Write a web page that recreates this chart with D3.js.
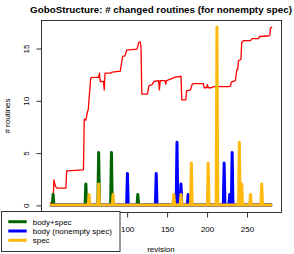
<!DOCTYPE html>
<html>
<head>
<meta charset="utf-8">
<script src="https://cdn.jsdelivr.net/npm/d3@7"></script>
<style>
  body { margin: 0; background: #fff; }
  text { font-family: "Liberation Sans", Arial, sans-serif; fill: #000; }
</style>
</head>
<body>
<script>
// revisions shown on the x axis
var FIRST_REV = 4;
var LAST_REV = 282;

// red line: total changed routines (breakpoints)
var totalRev = [4, 8, 9, 11, 13, 24, 25, 46, 47, 49, 51, 52, 55, 57, 65, 66, 67, 71, 72, 73,
  80, 82, 92, 95, 98, 100, 113, 115, 117, 118, 119, 126, 128, 132, 134, 140, 141, 142, 148, 149,
  150, 154, 160, 168, 169, 174, 175, 180, 182, 185, 196, 197, 200, 201, 202, 206, 209, 227, 230, 231,
  235, 236, 238, 239, 240, 243, 244, 246, 255, 257, 265, 266, 277, 279, 280, 282];
var totalVal = [0.2, 0.2, 2.4, 1.75, 1.6, 1.6, 3.25, 3.35, 8.2, 8.1, 8.9, 9.1, 12.1, 12.2, 12.2, 12.6, 11.8, 11.8, 11.0, 12.6,
  12.6, 12.7, 12.8, 14.2, 14.25, 14.8, 14.9, 15.5, 15.6, 15.1, 10.6, 10.6, 11.4, 11.5, 11.8, 11.88, 11.0, 11.88, 11.88, 11.55,
  11.88, 12.0, 12.2, 12.3, 10.05, 10.05, 10.9, 11.0, 11.55, 11.6, 11.6, 11.2, 11.2, 11.5, 11.2, 11.2, 11.3, 11.3, 11.35, 11.75,
  11.85, 11.9, 12.95, 12.95, 13.8, 13.9, 15.55, 15.7, 15.7, 15.9, 15.9, 16.1, 16.15, 16.2, 16.9, 17.0];

// spike series (all other revisions are 0)
var bodySpecRev = [8, 49, 65, 81, 114];
var bodySpecVal = [1, 2, 5, 5, 1];
var bodyRev = [101, 137, 163, 168, 177, 222, 229, 232];
var bodyVal = [3, 3, 6, 2, 1, 4, 1, 5];
var specRev = [53, 65, 83, 159, 168, 181, 202, 213, 241, 244, 255, 269];
var specVal = [1, 2, 1, 1, 1, 4, 4, 17, 6, 2, 1, 2];

var xTicks = [0, 50, 100, 150, 200, 250];
// labels of 0 and 50 sit under the legend box
var xTickLabels = ['', '', '100', '150', '200', '250'];
var yTicks = [0, 5, 10, 15];
var legendLabels = ['body+spec', 'body (nonempty spec)', 'spec'];
var COLORS = ['#006400', '#0000FF', '#FFB90F'];

var W = 294, H = 254;
var LEFT = 41, RIGHT = 281, TOP = 20, BOTTOM = 212;

function padded(lo, hi) {
  var p = (hi - lo) * 0.04;
  return [lo - p, hi + p];
}

var x = d3.scaleLinear().domain(padded(FIRST_REV, LAST_REV)).range([LEFT, RIGHT]);
var y = d3.scaleLinear().domain(padded(0, 17)).range([BOTTOM, TOP]);

function fullSeries(revs, vals) {
  return d3.range(FIRST_REV, LAST_REV + 1).map(function (r) {
    var i = revs.indexOf(r);
    return {x: r, y: i < 0 ? 0 : vals[i]};
  });
}

var svg = d3.select('body').append('svg')
  .attr('width', W)
  .attr('height', H);

var line = d3.line()
  .x(function (d) { return x(d.x); })
  .y(function (d) { return y(d.y); });

// red total line
svg.append('path')
  .datum(totalRev.map(function (r, i) { return {x: r, y: totalVal[i]}; }))
  .attr('d', line)
  .style('fill', 'none')
  .style('stroke', '#FF0000')
  .style('stroke-width', 1.3)
  .style('stroke-linejoin', 'round');

var series = [
  fullSeries(bodySpecRev, bodySpecVal),
  fullSeries(bodyRev, bodyVal),
  fullSeries(specRev, specVal)
];

svg.selectAll('path.spikes')
  .data(series)
  .enter().append('path')
    .attr('class', 'spikes')
    .attr('d', line)
    .style('fill', 'none')
    .style('stroke', function (d, i) { return COLORS[i]; })
    .style('stroke-width', 3)
    .style('stroke-linejoin', 'round')
    .style('stroke-linecap', 'butt');

// box
svg.append('rect')
  .attr('x', LEFT + 0.5)
  .attr('y', TOP + 0.5)
  .attr('width', RIGHT - LEFT)
  .attr('height', BOTTOM - TOP)
  .style('fill', 'none')
  .style('stroke', '#333')
  .style('stroke-width', 1);

var xAxis = svg.append('g')
  .attr('transform', 'translate(0.5,' + (BOTTOM + 0.5) + ')')
  .call(d3.axisBottom(x).tickValues(xTicks).tickSize(5)
    .tickFormat(function (d, i) { return xTickLabels[i]; }));
xAxis.select('.domain').remove();
xAxis.selectAll('line').style('stroke', '#333');
xAxis.selectAll('text')
  .attr('y', 19)
  .attr('dy', 0)
  .style('font-size', '8px')
  .style('font-family', '"Liberation Sans", Arial, sans-serif');

var yAxis = svg.append('g')
  .attr('transform', 'translate(' + (LEFT + 0.5) + ',0.5)')
  .call(d3.axisLeft(y).tickValues(yTicks).tickSize(5));
yAxis.select('.domain').remove();
yAxis.selectAll('line').style('stroke', '#333');
yAxis.selectAll('text')
  .attr('x', 0)
  .attr('y', -12.5)
  .attr('dy', 0)
  .attr('transform', 'rotate(-90)')
  .style('text-anchor', 'middle')
  .style('font-size', '8px')
  .style('font-family', '"Liberation Sans", Arial, sans-serif');

svg.append('text')
  .attr('x', (LEFT + RIGHT) / 2)
  .attr('y', 13)
  .style('text-anchor', 'middle')
  .style('font-size', '9.8px')
  .style('font-weight', 'bold')
  .text('GoboStructure: # changed routines (for nonempty spec)');

svg.append('text')
  .attr('x', (LEFT + RIGHT) / 2)
  .attr('y', 251.5)
  .style('text-anchor', 'middle')
  .style('font-size', '8px')
  .text('revision');

svg.append('text')
  .attr('transform', 'translate(10,' + (TOP + BOTTOM) / 2 + ') rotate(-90)')
  .style('text-anchor', 'middle')
  .style('font-size', '8px')
  .text('# routines');

// legend
var legend = svg.append('g');
legend.append('rect')
  .attr('x', 1.5)
  .attr('y', 211.5)
  .attr('width', 118.5)
  .attr('height', 40)
  .style('fill', '#fff')
  .style('stroke', '#333');

var item = legend.selectAll('g.item')
  .data(legendLabels)
  .enter().append('g')
    .attr('class', 'item')
    .attr('transform', function (d, i) { return 'translate(0,' + (221.7 + i * 9.3) + ')'; });
item.append('line')
  .attr('x1', 8.3)
  .attr('x2', 26.7)
  .style('stroke', function (d, i) { return COLORS[i]; })
  .style('stroke-width', 3);
item.append('text')
  .attr('x', 32.7)
  .attr('y', 3)
  .style('font-size', '8px')
  .text(function (d) { return d; });
</script>
</body>
</html>
